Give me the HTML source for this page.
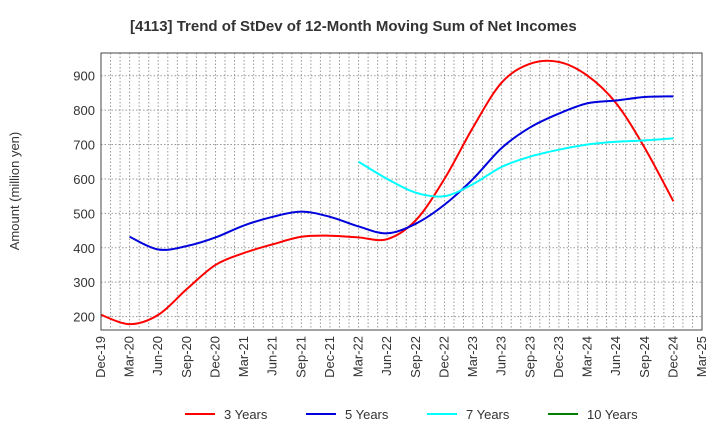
<!DOCTYPE html>
<html><head><meta charset="utf-8"><style>
body{margin:0;background:#fff;font-family:"Liberation Sans",sans-serif;}
svg text{font-family:"Liberation Sans",sans-serif;}
</style></head><body>
<svg width="720" height="440" id="c">
<text x="130" y="31" font-size="15" font-weight="bold" fill="#333">[4113]  Trend of StDev of 12-Month Moving Sum of Net Incomes</text>
<text transform="translate(19,191) rotate(-90)" text-anchor="middle" font-size="13" fill="#333">Amount (million yen)</text>
<g id="grid"></g><g id="series"></g><g id="axes"></g><g id="legend"></g>
</svg>
<script>
const quarters=["Dec-19","Mar-20","Jun-20","Sep-20","Dec-20","Mar-21","Jun-21","Sep-21","Dec-21","Mar-22","Jun-22","Sep-22","Dec-22","Mar-23","Jun-23","Sep-23","Dec-23","Mar-24","Jun-24","Sep-24","Dec-24","Mar-25"];
const yTicks=[200,300,400,500,600,700,800,900];
const s3=[205,178,205,280,350,385,410,432,435,430,425,480,600,750,880,935,940,900,820,690,535];
const s5=[null,432,395,405,430,465,490,505,490,462,442,470,525,600,690,750,790,820,828,838,840];
const s7=[null,null,null,null,null,null,null,null,null,650,600,560,550,585,635,665,685,700,708,712,718];
const s10=[];
const L=101,R=702,T=53,B=330,ymin=161,ymax=966;
const xq=i=>L+(R-L)*i/21, ym=m=>L+(R-L)*m/63, y=v=>B-(B-T)*(v-ymin)/(ymax-ymin);
const NS="http://www.w3.org/2000/svg";
function mk(t,a,p){const e=document.createElementNS(NS,t);for(const k in a)e.setAttribute(k,a[k]);p.appendChild(e);return e;}
const g=document.getElementById('grid'),ax=document.getElementById('axes'),se=document.getElementById('series'),lg=document.getElementById('legend');
for(let m=1;m<63;m++){const l=mk('line',{x1:ym(m),x2:ym(m),y1:T,y2:B,stroke:'#999','stroke-dasharray':'1.5,2','stroke-width':1},g);

}
yTicks.forEach(v=>{const l=mk('line',{x1:L,x2:R,y1:y(v),y2:y(v),stroke:'#999','stroke-dasharray':'1.5,2'},g);


const t=mk('text',{x:L-6,y:y(v)+5,'text-anchor':'end','font-size':13,fill:'#333'},ax);t.textContent=v;

});
quarters.forEach((q,i)=>{const t=mk('text',{transform:`translate(${xq(i)+4},${B+6}) rotate(-90)`,'text-anchor':'end','font-size':13,fill:'#333'},ax);t.textContent=q;

});
const fr=mk('rect',{x:L,y:T,width:R-L,height:B-T,fill:'none',stroke:'#444'},ax);


function path(arr){const p=[];arr.forEach((v,i)=>{if(v!=null)p.push([xq(i),y(v)]);});if(p.length<2)return'';
let d=`M${p[0][0]},${p[0][1]}`;for(let i=0;i<p.length-1;i++){const p0=p[i-1]||p[i],p1=p[i],p2=p[i+1],p3=p[i+2]||p2;
d+=` C${p1[0]+(p2[0]-p0[0])/6},${p1[1]+(p2[1]-p0[1])/6} ${p2[0]-(p3[0]-p1[0])/6},${p2[1]-(p3[1]-p1[1])/6} ${p2[0]},${p2[1]}`;}return d;}
const series=[[s3,'#ff0000','3 Years','series-3-years'],[s5,'#0000dd','5 Years','series-5-years'],[s7,'#00ffff','7 Years','series-7-years'],[s10,'#008000','10 Years','series-10-years']];
const lx=[185,306,427,548];
series.forEach((s,k)=>{const d=path(s[0]);if(d){const p=mk('path',{d:d,fill:'none',stroke:s[1],'stroke-width':2},se);

}
const ln=mk('line',{x1:lx[k],x2:lx[k]+30,y1:414,y2:414,stroke:s[1],'stroke-width':2},lg);


const t=mk('text',{x:lx[k]+39,y:419,'font-size':13,fill:'#333'},lg);t.textContent=s[2];

});
</script>
</body></html>
